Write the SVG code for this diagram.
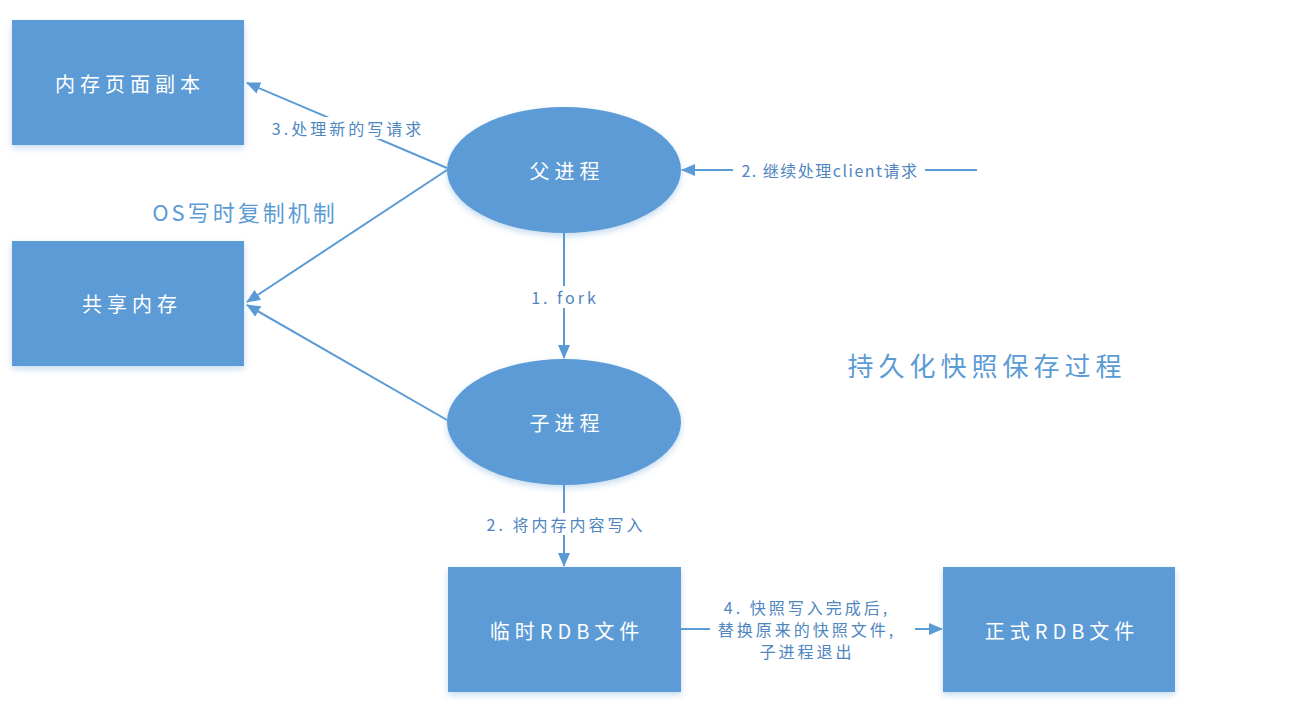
<svg xmlns="http://www.w3.org/2000/svg" width="1309" height="720" viewBox="0 0 1309 720">
<defs>
<filter id="sh" x="-10%" y="-10%" width="120%" height="130%">
<feDropShadow dx="0" dy="3" stdDeviation="3" flood-color="#5b9bd5" flood-opacity="0.35"/>
</filter>
<marker id="ah" viewBox="0 0 14 12" refX="13" refY="6" markerWidth="14" markerHeight="12" markerUnits="userSpaceOnUse" orient="auto">
<path d="M0,0 L14,6 L0,12 Z" fill="#5b9bd5"/>
</marker>
<style>
.node{fill:#5b9bd5;filter:url(#sh)}
.nt{fill:#fff;font-family:"Noto Sans CJK SC","Noto Sans",sans-serif;font-size:20px;letter-spacing:5px;text-anchor:middle;dominant-baseline:central}
.ln{stroke:#5b9bd5;stroke-width:2;fill:none}
.lb{fill:#4f86c0;font-family:"Noto Sans CJK SC","Noto Sans",sans-serif;font-size:16px;letter-spacing:3px;text-anchor:middle;dominant-baseline:central}
.bg{fill:#fff}
.tt{fill:#5b9bd5;font-family:"Noto Sans CJK SC","Noto Sans",sans-serif;text-anchor:middle;dominant-baseline:central}
</style>
</defs>
<rect width="1309" height="720" fill="#fff"/>
<g id="connectors">
<line class="ln" x1="447" y1="168" x2="247" y2="83" marker-end="url(#ah)"/>
<line class="ln" x1="447" y1="170" x2="247" y2="302" marker-end="url(#ah)"/>
<line class="ln" x1="447" y1="420" x2="247" y2="305" marker-end="url(#ah)"/>
<line class="ln" x1="977" y1="170" x2="682" y2="170" marker-end="url(#ah)"/>
<line class="ln" x1="564" y1="233" x2="564" y2="358" marker-end="url(#ah)"/>
<line class="ln" x1="564" y1="485" x2="564" y2="566" marker-end="url(#ah)"/>
<line class="ln" x1="681" y1="629" x2="942" y2="629" marker-end="url(#ah)"/>
<rect class="bg" x="266" y="117" width="162" height="22"/>
<text class="lb" x="348" y="128">3.处理新的写请求</text>
<rect class="bg" x="733" y="159" width="192" height="22"/>
<text class="lb" x="830" y="170" style="letter-spacing:1.5px">2. 继续处理client请求</text>
<rect class="bg" x="533" y="286" width="62" height="22"/>
<text class="lb" x="565" y="297">1. fork</text>
<rect class="bg" x="481" y="513" width="166" height="22"/>
<text class="lb" x="566" y="524">2. 将内存内容写入</text>
<rect class="bg" x="710" y="595" width="205" height="68"/>
<text class="lb" x="807" y="607">4. 快照写入完成后,</text>
<text class="lb" x="807" y="629">替换原来的快照文件,</text>
<text class="lb" x="807" y="651">子进程退出</text>
</g>
<g id="page-copy">
<rect class="node" x="12" y="20" width="232" height="125"/>
<text class="nt" x="130" y="83">内存页面副本</text>
</g>
<g id="shared-memory">
<rect class="node" x="12" y="241" width="232" height="125"/>
<text class="nt" x="132" y="303">共享内存</text>
</g>
<g id="parent">
<ellipse class="node" cx="564" cy="170" rx="117" ry="63"/>
<text class="nt" x="567" y="170">父进程</text>
</g>
<g id="child">
<ellipse class="node" cx="564" cy="422" rx="117" ry="63"/>
<text class="nt" x="567" y="422">子进程</text>
</g>
<g id="temp-rdb">
<rect class="node" x="448" y="567" width="233" height="125"/>
<text class="nt" x="567" y="630">临时RDB文件</text>
</g>
<g id="final-rdb">
<rect class="node" x="943" y="567" width="232" height="125"/>
<text class="nt" x="1062" y="630">正式RDB文件</text>
</g>
<text class="tt" x="245" y="211" font-size="22" letter-spacing="3">OS写时复制机制</text>
<text class="tt" x="987" y="364" font-size="26" letter-spacing="5">持久化快照保存过程</text>
</svg>
